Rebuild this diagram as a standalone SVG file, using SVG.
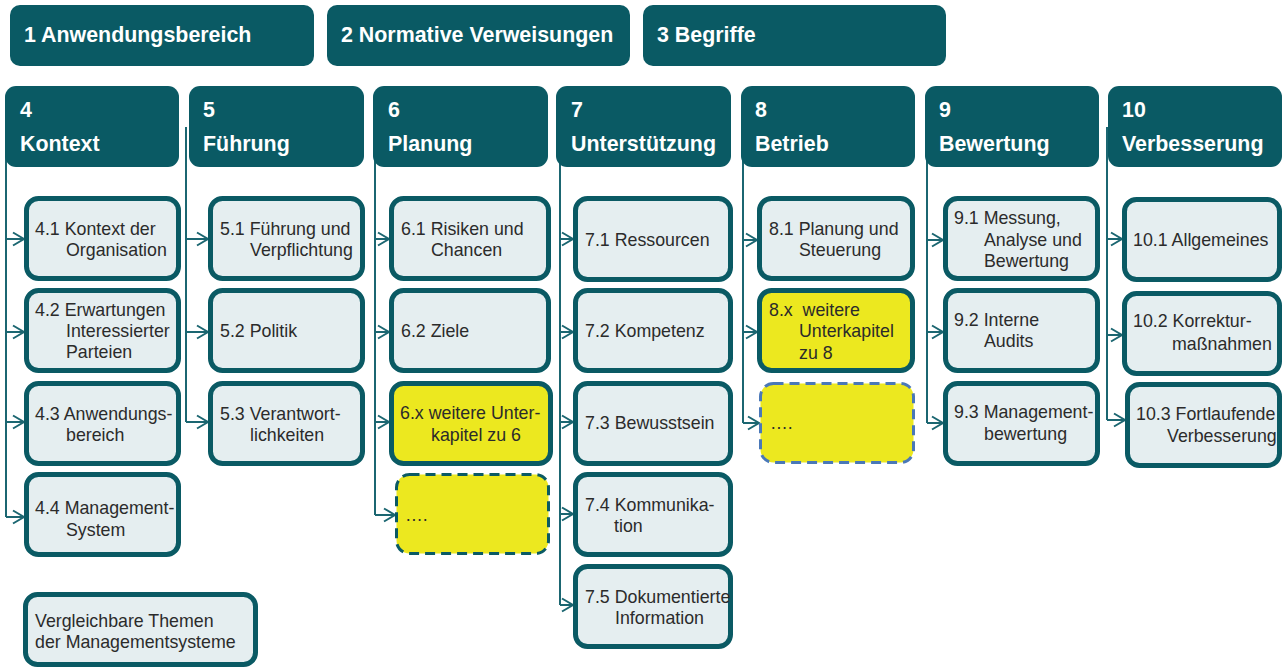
<svg xmlns="http://www.w3.org/2000/svg" width="1283" height="668" viewBox="0 0 1283 668">
<defs>
<marker id="arr" markerUnits="userSpaceOnUse" markerWidth="14" markerHeight="16" refX="12" refY="8" orient="auto">
<path d="M1,1.5 L12,8 L1,14.5" fill="none" stroke="#1b6671" stroke-width="2"/>
</marker>
<style>
.hd{fill:#0a5a64;}
.ht{font-family:"Liberation Sans",Arial,sans-serif;font-weight:bold;font-size:21.4px;fill:#ffffff;}
.bx{fill:#e5eef0;stroke:#0a5a64;stroke-width:5;}
.yb{fill:#ece81f;stroke:#0a5a64;stroke-width:5;}
.dt{fill:#ece81f;stroke:#0a5a64;stroke-width:3;stroke-dasharray:10 6;}
.db{fill:#ece81f;stroke:#4a78b8;stroke-width:3;stroke-dasharray:10 6;}
.t{font-family:"Liberation Sans",Arial,sans-serif;font-size:17.8px;fill:#2b2b2b;}
.ln{fill:none;stroke:#1b6671;stroke-width:2;}
.ar{fill:none;stroke:#1b6671;stroke-width:2;marker-end:url(#arr);}
</style>
</defs>
<rect width="1283" height="668" fill="#ffffff"/>

<g id="connectors">
<path class="ln" d="M6,127 V517"/>
<path class="ar" d="M6,239 H24"/><path class="ar" d="M6,332 H24"/><path class="ar" d="M6,422 H24"/><path class="ar" d="M6,517 H24"/>
<path class="ln" d="M186,127 V422"/>
<path class="ar" d="M186,239 H208"/><path class="ar" d="M186,332 H208"/><path class="ar" d="M186,422 H208"/>
<path class="ln" d="M375,127 V515"/>
<path class="ar" d="M375,239 H389"/><path class="ar" d="M375,332 H389"/><path class="ar" d="M375,422 H389"/><path class="ar" d="M375,515 H395"/>
<path class="ln" d="M560,127 V605"/>
<path class="ar" d="M560,239 H573"/><path class="ar" d="M560,332 H573"/><path class="ar" d="M560,422 H573"/><path class="ar" d="M560,514 H573"/><path class="ar" d="M560,605 H573"/>
<path class="ln" d="M743,127 V423"/>
<path class="ar" d="M743,240 H757"/><path class="ar" d="M743,332 H757"/><path class="ar" d="M743,423 H759"/>
<path class="ln" d="M927,127 V423"/>
<path class="ar" d="M927,240 H943"/><path class="ar" d="M927,332 H943"/><path class="ar" d="M927,423 H943"/>
<path class="ln" d="M1107,127 V420"/>
<path class="ar" d="M1107,239 H1122"/><path class="ar" d="M1107,335 H1122"/><path class="ar" d="M1107,420 H1125"/>
</g>

<g id="h1"><rect class="hd" x="10" y="5" width="304" height="61" rx="10"/><text class="ht" x="24" y="42">1 Anwendungsbereich</text></g>
<g id="h2"><rect class="hd" x="327" y="5" width="303" height="61" rx="10"/><text class="ht" x="341" y="42">2 Normative Verweisungen</text></g>
<g id="h3"><rect class="hd" x="643" y="5" width="303" height="61" rx="10"/><text class="ht" x="657" y="42">3 Begriffe</text></g>

<g id="h4"><rect class="hd" x="5" y="86" width="174" height="81" rx="11"/><text class="ht" x="20" y="117">4</text><text class="ht" x="20" y="151">Kontext</text></g>
<g id="h5"><rect class="hd" x="189" y="86" width="175" height="81" rx="11"/><text class="ht" x="203" y="117">5</text><text class="ht" x="203" y="151">Führung</text></g>
<g id="h6"><rect class="hd" x="373" y="86" width="175" height="81" rx="11"/><text class="ht" x="388" y="117">6</text><text class="ht" x="388" y="151">Planung</text></g>
<g id="h7"><rect class="hd" x="556" y="86" width="175" height="81" rx="11"/><text class="ht" x="571" y="117">7</text><text class="ht" x="571" y="151">Unterstützung</text></g>
<g id="h8"><rect class="hd" x="741" y="86" width="174" height="81" rx="11"/><text class="ht" x="755" y="117">8</text><text class="ht" x="755" y="151">Betrieb</text></g>
<g id="h9"><rect class="hd" x="925" y="86" width="174" height="81" rx="11"/><text class="ht" x="939" y="117">9</text><text class="ht" x="939" y="151">Bewertung</text></g>
<g id="h10"><rect class="hd" x="1108" y="86" width="174" height="81" rx="11"/><text class="ht" x="1122" y="117">10</text><text class="ht" x="1122" y="151">Verbesserung</text></g>

<g id="n4-1"><rect class="bx" x="26.5" y="198.5" width="152" height="80" rx="12"/><text class="t" x="35" y="235">4.1 Kontext der</text><text class="t" x="66" y="256">Organisation</text></g>
<g id="n4-2"><rect class="bx" x="26.5" y="290.5" width="152" height="80" rx="12"/><text class="t" x="35" y="316">4.2 Erwartungen</text><text class="t" x="66" y="337">Interessierter</text><text class="t" x="66" y="358">Parteien</text></g>
<g id="n4-3"><rect class="bx" x="26.5" y="383.5" width="152" height="80" rx="12"/><text class="t" x="35" y="420">4.3 Anwendungs-</text><text class="t" x="66" y="441">bereich</text></g>
<g id="n4-4"><rect class="bx" x="26.5" y="474.5" width="152" height="80" rx="12"/><text class="t" x="35" y="514">4.4 Management-</text><text class="t" x="66" y="536">System</text></g>

<g id="n5-1"><rect class="bx" x="210.5" y="198.5" width="152" height="80" rx="12"/><text class="t" x="220" y="235">5.1 Führung und</text><text class="t" x="250" y="256">Verpflichtung</text></g>
<g id="n5-2"><rect class="bx" x="210.5" y="290.5" width="152" height="80" rx="12"/><text class="t" x="220" y="337">5.2 Politik</text></g>
<g id="n5-3"><rect class="bx" x="210.5" y="383.5" width="152" height="80" rx="12"/><text class="t" x="220" y="420">5.3 Verantwort-</text><text class="t" x="250" y="441">lichkeiten</text></g>

<g id="n6-1"><rect class="bx" x="391.5" y="198.5" width="157" height="80" rx="12"/><text class="t" x="401" y="235">6.1 Risiken und</text><text class="t" x="431" y="256">Chancen</text></g>
<g id="n6-2"><rect class="bx" x="391.5" y="290.5" width="157" height="80" rx="12"/><text class="t" x="401" y="337">6.2 Ziele</text></g>
<g id="n6-x"><rect class="yb" x="391.5" y="383.5" width="159" height="80" rx="12"/><text class="t" x="400" y="419">6.x weitere Unter-</text><text class="t" x="431" y="441">kapitel zu 6</text></g>
<g id="n6-more"><rect class="dt" x="396.5" y="474.5" width="152" height="79" rx="13"/><text class="t" x="405" y="521">….</text></g>

<g id="n7-1"><rect class="bx" x="575.5" y="198.5" width="155" height="81" rx="12"/><text class="t" x="585" y="246">7.1 Ressourcen</text></g>
<g id="n7-2"><rect class="bx" x="575.5" y="290.5" width="155" height="80" rx="12"/><text class="t" x="585" y="337">7.2 Kompetenz</text></g>
<g id="n7-3"><rect class="bx" x="575.5" y="383.5" width="155" height="80" rx="12"/><text class="t" x="585" y="429">7.3 Bewusstsein</text></g>
<g id="n7-4"><rect class="bx" x="575.5" y="474.5" width="155" height="80" rx="12"/><text class="t" x="585" y="511">7.4 Kommunika-</text><text class="t" x="614" y="532">tion</text></g>
<g id="n7-5"><rect class="bx" x="575.5" y="566.5" width="155" height="80" rx="12"/><text class="t" x="585" y="603">7.5 Dokumentierte</text><text class="t" x="615" y="624">Information</text></g>

<g id="n8-1"><rect class="bx" x="759.5" y="198.5" width="153" height="80" rx="12"/><text class="t" x="769" y="235">8.1 Planung und</text><text class="t" x="799" y="256">Steuerung</text></g>
<g id="n8-x"><rect class="yb" x="759.5" y="290.5" width="153" height="80" rx="12"/><text class="t" x="769" y="316" xml:space="preserve">8.x  weitere</text><text class="t" x="799" y="337">Unterkapitel</text><text class="t" x="799" y="359">zu 8</text></g>
<g id="n8-more"><rect class="db" x="760.5" y="383.5" width="153" height="79" rx="13"/><text class="t" x="770" y="429">….</text></g>

<g id="n9-1"><rect class="bx" x="945.5" y="198.5" width="152" height="80" rx="12"/><text class="t" x="954" y="224">9.1 Messung,</text><text class="t" x="984" y="246">Analyse und</text><text class="t" x="984" y="267">Bewertung</text></g>
<g id="n9-2"><rect class="bx" x="945.5" y="290.5" width="152" height="80" rx="12"/><text class="t" x="954" y="326">9.2 Interne</text><text class="t" x="984" y="347">Audits</text></g>
<g id="n9-3"><rect class="bx" x="945.5" y="383.5" width="152" height="80" rx="12"/><text class="t" x="954" y="418">9.3 Management-</text><text class="t" x="984" y="440">bewertung</text></g>

<g id="n10-1"><rect class="bx" x="1124.5" y="199.5" width="155" height="80" rx="12"/><text class="t" x="1133" y="246">10.1 Allgemeines</text></g>
<g id="n10-2"><rect class="bx" x="1124.5" y="293.5" width="155" height="80" rx="12"/><text class="t" x="1133" y="327">10.2 Korrektur-</text><text class="t" x="1172" y="350">maßnahmen</text></g>
<g id="n10-3"><rect class="bx" x="1127.5" y="384.5" width="152" height="81" rx="12"/><text class="t" x="1136" y="420">10.3 Fortlaufende</text><text class="t" x="1167" y="442">Verbesserung</text></g>

<g id="legend"><rect class="bx" x="25.5" y="594.5" width="230" height="70" rx="12"/><text class="t" x="35" y="627">Vergleichbare Themen</text><text class="t" x="35" y="648">der Managementsysteme</text></g>
</svg>
